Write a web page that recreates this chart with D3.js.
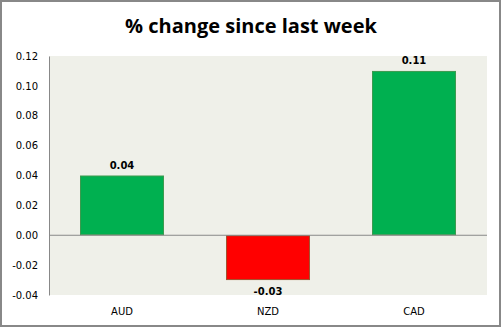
<!DOCTYPE html>
<html><head><meta charset="utf-8">
<script src="https://cdn.jsdelivr.net/npm/d3@7"></script>
<style>body{margin:0;background:#fff}</style>
</head><body>
<script>
const title = "% change since last week";
const categories = ["AUD", "NZD", "CAD"];
const values = [0.04, -0.03, 0.11];
const yTicks = [0.12, 0.10, 0.08, 0.06, 0.04, 0.02, 0.00, -0.02, -0.04];

(function () {
const W = 502, H = 329;
const fmt = d => d.toFixed(2);
const svg = d3.select("body").append("svg").attr("width", W).attr("height", H);
svg.append("rect").attr("x", 0).attr("y", 0).attr("width", W).attr("height", H).attr("fill", "#fff");
svg.append("rect").attr("x", 1).attr("y", 1).attr("width", 499).attr("height", 325)
  .attr("fill", "none").attr("stroke", "#888").attr("stroke-width", 2);

const pL = 49, pR = 487, pT = 56, pB = 295;
const x = d3.scaleBand().domain(categories).range([pL, pR]).paddingInner(0.425).paddingOuter(0.2125);
const y = d3.scaleLinear().domain([-0.04, 0.12]).range([pB, pT]);

svg.append("rect").attr("x", pL).attr("y", pT).attr("width", pR - pL).attr("height", pB - pT).attr("fill", "#EFF0E9");

svg.append("text").attr("x", W / 2).attr("y", 33).attr("text-anchor", "middle")
  .attr("font-family", "Open Sans, sans-serif").attr("font-weight", "bold").attr("font-size", 20).attr("fill", "#000").text(title);

const yAxis = d3.axisLeft(y).tickValues(yTicks).tickSize(0).tickPadding(11).tickFormat(d => (Math.abs(d) < 1e-9 ? 0 : d).toFixed(2));
const ga = svg.append("g").attr("transform", `translate(${pL},0)`).call(yAxis);
ga.select(".domain").attr("stroke", "#888");
ga.selectAll("text").attr("font-family", "DejaVu Sans, sans-serif").attr("font-size", 10).attr("fill", "#000");

svg.selectAll(".bar").data(values).enter().append("rect")
  .attr("x", (d, i) => x(categories[i]) + 0.5)
  .attr("y", d => y(Math.max(0, d)) + 0.5)
  .attr("width", x.bandwidth() - 1)
  .attr("height", d => Math.abs(y(d) - y(0)) - 1)
  .attr("fill", d => d >= 0 ? "#00B050" : "#FF0000")
  .attr("stroke", d => d >= 0 ? "#3C9A4E" : "#A0522D").attr("stroke-width", 1);

svg.append("line").attr("x1", pL).attr("x2", pR).attr("y1", y(0)).attr("y2", y(0)).attr("stroke", "#888");

svg.selectAll(".lbl").data(values).enter().append("text")
  .attr("x", (d, i) => x(categories[i]) + x.bandwidth() / 2)
  .attr("y", d => d >= 0 ? y(d) - 7 : y(d) + 15)
  .attr("text-anchor", "middle").attr("font-family", "DejaVu Sans, sans-serif").attr("font-weight", "bold").attr("font-size", 10)
  .text(fmt);

const xAxis = d3.axisBottom(x).tickSize(0).tickPadding(13);
const gx = svg.append("g").attr("transform", `translate(0,${pB})`).call(xAxis);
gx.select(".domain").remove();
gx.selectAll("text").attr("font-family", "DejaVu Sans, sans-serif").attr("font-size", 10).attr("fill", "#000");
})();
</script>
</body></html>
